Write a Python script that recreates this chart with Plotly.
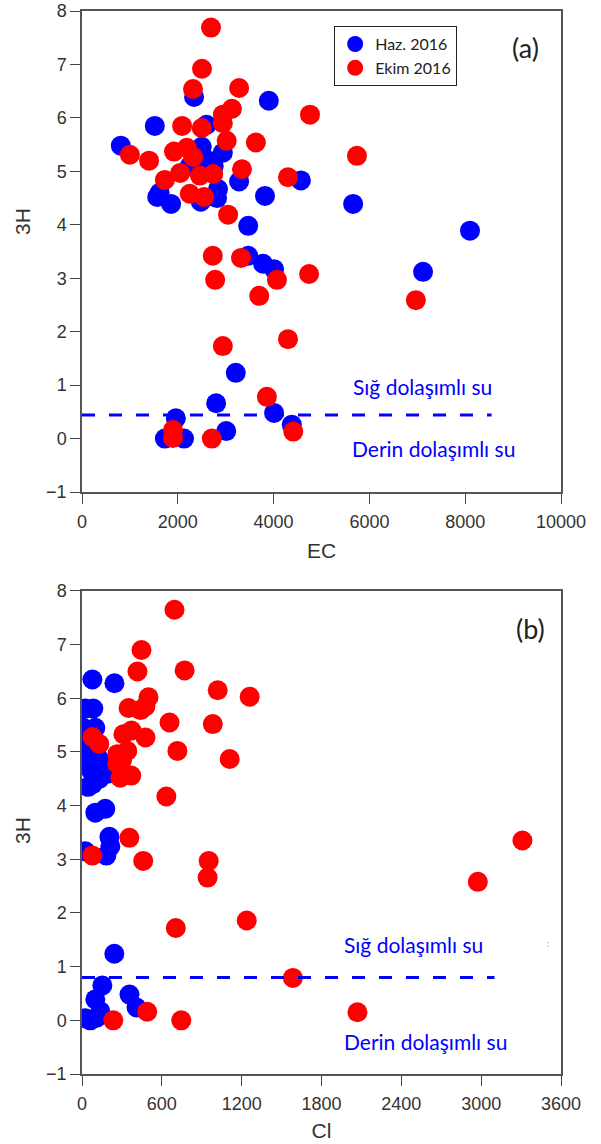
import plotly.graph_objects as go

# ---- Panel (a): 3H vs EC ----
ec_haz = [810, 1520, 1570, 1620, 1860, 2340, 2600, 2400, 2500, 2650, 2750, 2940, 2550, 2820, 2840, 2480,
          3280, 3820, 3900, 4570, 5660, 3470, 3470, 3780, 4010, 7120, 8100, 3210, 2800, 4010, 1960,
          1730, 2130, 3010, 4380, 2250]
h3_haz_a = [5.48, 5.85, 4.52, 4.6, 4.39, 6.39, 5.87, 5.3, 5.46, 5.2, 5.1, 5.35, 5.0, 4.5, 4.67, 4.43,
            4.81, 4.54, 6.32, 4.83, 4.39, 3.98, 3.42, 3.27, 3.17, 3.12, 3.89, 1.23, 0.66, 0.48, 0.38,
            0.0, 0.0, 0.14, 0.26, 5.1]

ec_ekim = [2693, 2505, 2317, 3280, 4760, 3130, 2940, 2940, 2090, 2500, 1000, 1400, 3020, 3630, 5740,
           1920, 2190, 2320, 2050, 1730, 2460, 2740, 3340, 4300, 2250, 2550, 3050, 2730, 3320, 2780,
           4070, 4740, 6970, 3700, 2940, 4300, 3860, 1900, 1900, 2710, 4410]
h3_ekim_a = [7.69, 6.92, 6.54, 6.56, 6.06, 6.17, 6.06, 5.9, 5.85, 5.81, 5.31, 5.2, 5.57, 5.54, 5.29,
             5.37, 5.44, 5.27, 4.97, 4.84, 4.92, 4.95, 5.04, 4.89, 4.58, 4.52, 4.19, 3.42, 3.38, 2.97,
             2.97, 3.08, 2.59, 2.67, 1.73, 1.86, 0.78, 0.16, 0.01, 0.0, 0.13]

# ---- Panel (b): 3H vs Cl ----
cl_haz = [78, 244, 25, 85, 10, 100, 30, 60, 90, 120, 150, 40, 70, 100, 130, 160, 200, 47, 80, 110,
          100, 175, 206, 213, 183, 25, 243, 153, 100, 357, 138, 410, 63, 25, 110]
h3_haz_b = [6.35, 6.28, 5.81, 5.81, 5.45, 5.45, 5.2, 5.0, 5.1, 4.9, 4.8, 4.8, 4.65, 4.6, 4.5, 4.6, 4.6,
            4.35, 4.4, 4.5, 3.87, 3.94, 3.42, 3.24, 3.07, 3.15, 1.24, 0.65, 0.39, 0.48, 0.17, 0.24,
            0.0, 0.04, 0.05]

cl_ekim = [695, 447, 417, 771, 1020, 1260, 500, 477, 350, 440, 658, 983, 78, 130, 311, 372, 477, 717,
           1110, 265, 340, 265, 288, 370, 634, 356, 78, 460, 952, 944, 3310, 2975, 705, 1238, 1585,
           235, 490, 746, 2070, 300]
h3_ekim_b = [7.65, 6.9, 6.5, 6.52, 6.15, 6.03, 6.02, 5.85, 5.82, 5.78, 5.55, 5.52, 5.28, 5.15, 5.33,
             5.4, 5.27, 5.02, 4.87, 4.96, 5.02, 4.78, 4.52, 4.56, 4.17, 3.4, 3.07, 2.97, 2.97, 2.66,
             3.35, 2.58, 1.72, 1.86, 0.79, 0.0, 0.16, 0.0, 0.15, 4.85]

# threshold lines
thr_a_x = [0, 8550]
thr_a_y = [0.44, 0.44]
thr_b_x = [0, 3100]
thr_b_y = [0.8, 0.8]

y_ticks = [-1, 0, 1, 2, 3, 4, 5, 6, 7, 8]
x_ticks_a = [0, 2000, 4000, 6000, 8000, 10000]
x_ticktext_a = ["0", "2000", "4000", "6000", "8000", "10000"]
x_ticks_b = [0, 600, 1200, 1800, 2400, 3000, 3600]

BLUE = "#0000FF"
RED = "#FF0000"
MS = 20

fig = go.Figure()

fig.add_trace(go.Scatter(x=ec_haz, y=h3_haz_a, mode="markers", name="Haz. 2016",
                         marker=dict(color=BLUE, size=MS), xaxis="x", yaxis="y"))
fig.add_trace(go.Scatter(x=ec_ekim, y=h3_ekim_a, mode="markers", name="Ekim 2016",
                         marker=dict(color=RED, size=MS), xaxis="x", yaxis="y"))
fig.add_trace(go.Scatter(x=thr_a_x, y=thr_a_y, mode="lines", showlegend=False,
                         line=dict(color=BLUE, width=3, dash="13px,14px"), xaxis="x", yaxis="y"))

fig.add_trace(go.Scatter(x=cl_haz, y=h3_haz_b, mode="markers", showlegend=False,
                         marker=dict(color=BLUE, size=MS), xaxis="x2", yaxis="y2"))
fig.add_trace(go.Scatter(x=cl_ekim, y=h3_ekim_b, mode="markers", showlegend=False,
                         marker=dict(color=RED, size=MS), xaxis="x2", yaxis="y2"))
fig.add_trace(go.Scatter(x=thr_b_x, y=thr_b_y, mode="lines", showlegend=False,
                         line=dict(color=BLUE, width=3, dash="13px,14px"), xaxis="x2", yaxis="y2"))

tickfont = dict(family="Liberation Sans, Arial, sans-serif", size=18, color="#333333")
titlefont = dict(family="Liberation Sans, Arial, sans-serif", size=21, color="#333333")
common = dict(showgrid=False, zeroline=False, showline=True, mirror=True, linecolor="#555555",
              linewidth=1.5, ticks="outside", ticklen=10, tickcolor="#444444", tickwidth=1.2,
              tickfont=tickfont, automargin=False)

fig.update_layout(
    width=601, height=1144,
    margin=dict(l=82, r=40, t=11, b=70),
    plot_bgcolor="white", paper_bgcolor="white",
    showlegend=True,
    legend=dict(x=0.526, y=0.986, xanchor="left", yanchor="top",
                bordercolor="#222222", borderwidth=1.2, bgcolor="white",
                font=dict(family="Lato, sans-serif", size=16, color="#222222"),
                tracegroupgap=0, itemwidth=30),
    xaxis=dict(domain=[0, 1], anchor="y", range=[0, 10000], tickvals=x_ticks_a, ticktext=x_ticktext_a,
               ticklabelstandoff=3,
               title=dict(text="EC", font=titlefont, standoff=12), **common),
    yaxis=dict(domain=[0.5475, 1], anchor="x", range=[-1, 8], tickvals=y_ticks, **common),
    xaxis2=dict(domain=[0, 1], anchor="y2", range=[0, 3600], tickvals=x_ticks_b,
                ticklabelstandoff=3,
                title=dict(text="Cl", font=titlefont, standoff=10), **common),
    yaxis2=dict(domain=[0, 0.4544], anchor="x2", range=[-1, 8], tickvals=y_ticks, **common),
)

# y-axis titles placed as rotated paper annotations
fig.add_annotation(x=-0.1253, y=0.8024, xref="paper", yref="paper", text="3H", textangle=-90,
                   showarrow=False, font=titlefont, xanchor="center", yanchor="middle")
fig.add_annotation(x=-0.1253, y=0.2295, xref="paper", yref="paper", text="3H", textangle=-90,
                   showarrow=False, font=titlefont, xanchor="center", yanchor="middle")

txtfont = dict(family="Lato, sans-serif", size=21, color=BLUE)
lblfont = dict(family="Lato, sans-serif", size=27, color="#222222")
fig.add_annotation(x=7100, y=0.97, xref="x", yref="y", text="Sığ dolaşımlı su", showarrow=False, font=txtfont)
fig.add_annotation(x=7330, y=-0.18, xref="x", yref="y", text="Derin dolaşımlı su", showarrow=False, font=txtfont)
fig.add_annotation(x=2495, y=1.41, xref="x2", yref="y2", text="Sığ dolaşımlı su", showarrow=False, font=txtfont)
fig.add_annotation(x=2585, y=-0.39, xref="x2", yref="y2", text="Derin dolaşımlı su", showarrow=False, font=txtfont)
fig.add_annotation(x=3500, y=1.43, xref="x2", yref="y2", text=":", showarrow=False,
                   font=dict(family="Lato, sans-serif", size=9, color="#8080ff"))
fig.add_annotation(x=9250, y=7.31, xref="x", yref="y", text="(a)", showarrow=False, font=lblfont)
fig.add_annotation(x=3368, y=7.3, xref="x2", yref="y2", text="(b)", showarrow=False, font=lblfont)

# remove the browser's default 8px body margin so the figure fills the window exactly
fig.write_html("out.html", config={"displayModeBar": False},
               post_script="document.body.style.margin='0';")
